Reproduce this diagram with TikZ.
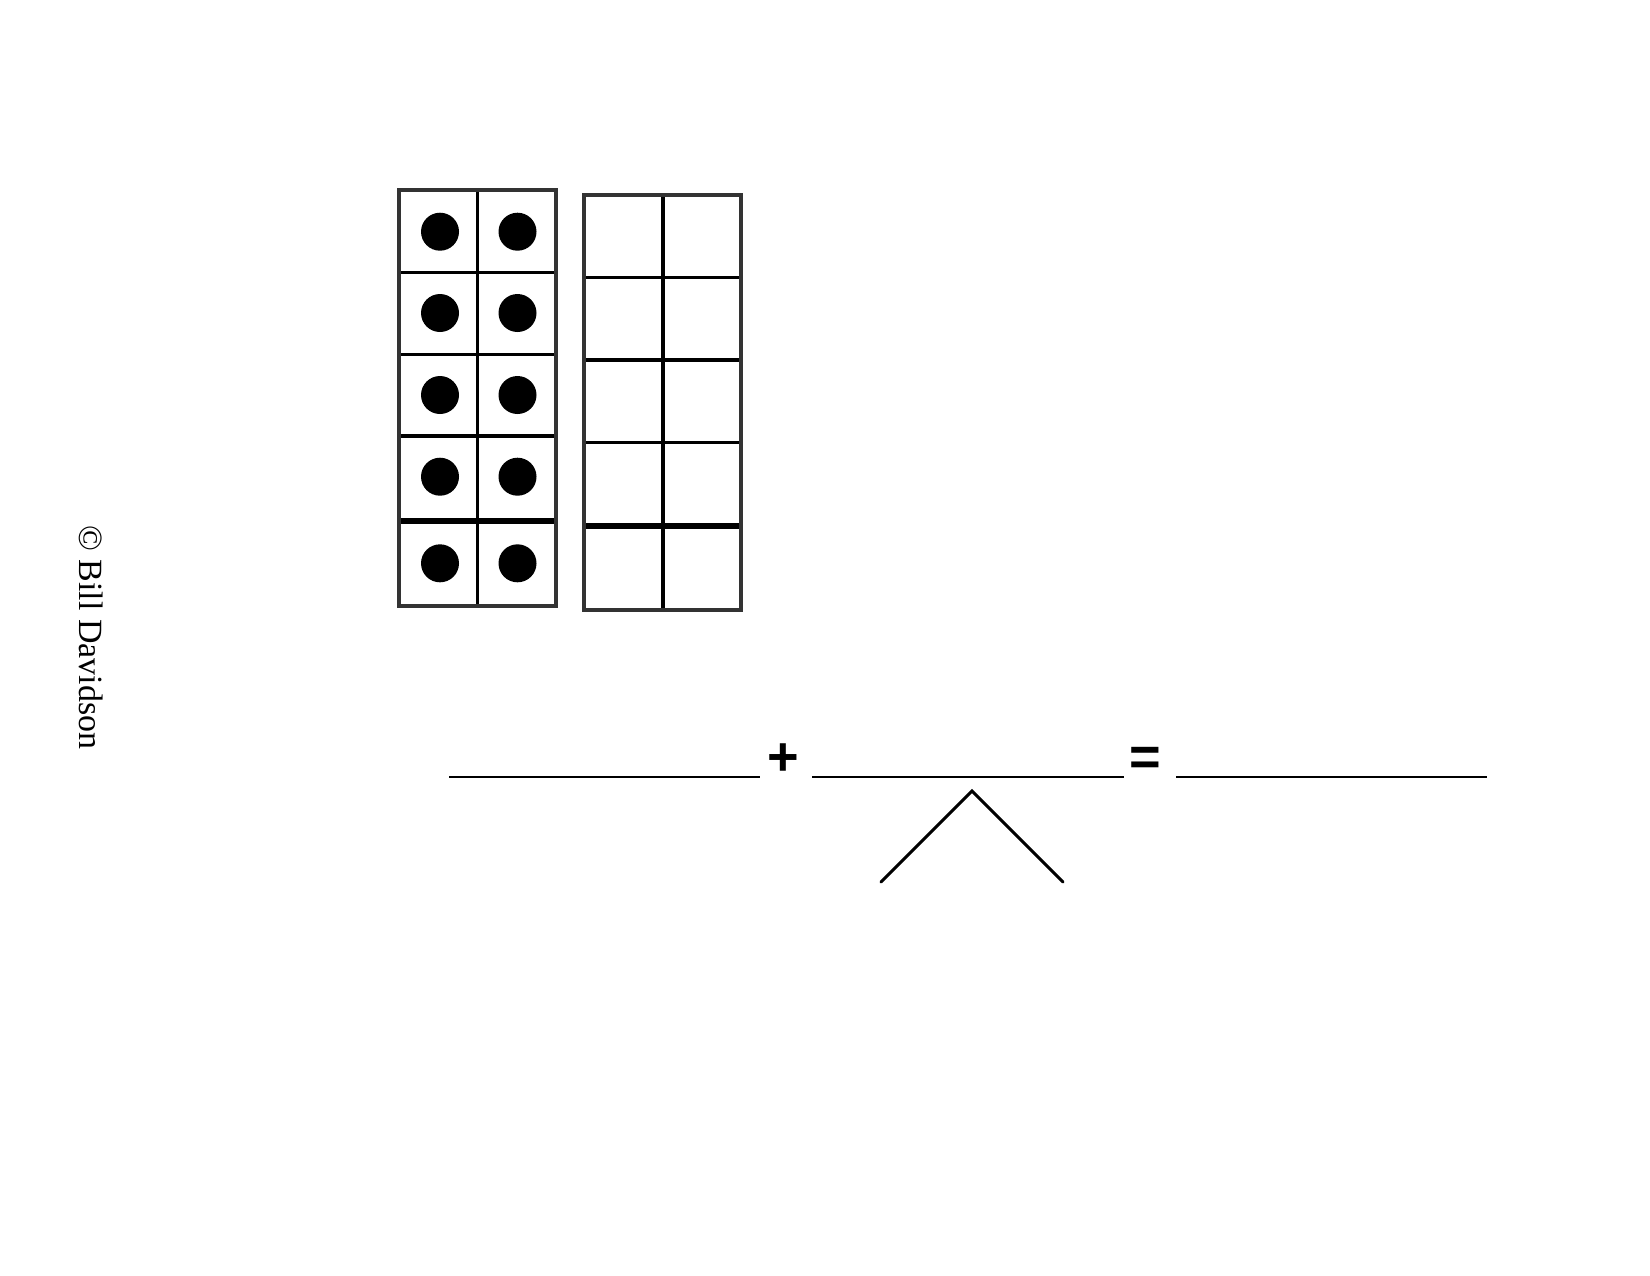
\documentclass[tikz,border=0pt]{standalone}
\usepackage{fontspec}
\setmainfont{Liberation Serif}
\newfontfamily\symfont{Liberation Sans}
\begin{document}
\begin{tikzpicture}[x=0.48pt,y=-0.48pt,
  outerline/.style={draw=black!80,line width=1.7pt},
  innerline/.style={draw=black,line width=1.7pt},
  thickline/.style={draw=black,line width=2.8pt},
  dot/.style={fill=black},
  blankline/.style={draw=black,line width=1pt},
  opsign/.style={inner sep=0pt,font=\symfont\bfseries\fontsize{26}{26}\selectfont},
  splitline/.style={draw=black,line width=1.5pt,line cap=round,line join=miter},
  credit/.style={inner sep=0pt,rotate=-90,anchor=base west,font=\fontsize{16.3}{16.3}\selectfont}]
\useasboundingbox (0,0) rectangle (1650,1275);
% left ten-frame
\draw[innerline] (477.5,190) -- (477.5,606);
\foreach \y in {272.7,354.3,436} \draw[innerline] (399,\y) -- (556,\y);
\draw[thickline] (399,521) -- (556,521);
\draw[outerline] (399,190) rectangle (556,606);
\foreach \y in {231.7,313,395,476.7,563.3} {
  \fill[dot] (440,\y) circle (19);
  \fill[dot] (517.5,\y) circle (19);
}
% right ten-frame
\draw[innerline] (663,195) -- (663,610);
\foreach \y in {277.5,360,442.7} \draw[innerline] (584,\y) -- (741,\y);
\draw[thickline] (584,526) -- (741,526);
\draw[outerline] (584,195) rectangle (741,610);
% equation
\coordinate (b1s) at (449,777); \coordinate (b1e) at (760,777);
\coordinate (b2s) at (812,777); \coordinate (b2e) at (1124,777);
\coordinate (b3s) at (1176,777); \coordinate (b3e) at (1487,777);
\draw[blankline] (b1s) -- (b1e);
\draw[blankline] (b2s) -- (b2e);
\draw[blankline] (b3s) -- (b3e);
\node[opsign] (plus) at (783,760) {+};
\node[opsign] (equals) at (1145,761) {=};
% number bond split
\coordinate (apex) at (972,791);
\coordinate (legl) at (881,882);
\coordinate (legr) at (1063,882);
\draw[splitline] (legl) -- (apex) -- (legr);
% credit
\node[credit] (copy) at (79,525) {© Bill Davidson};
\end{tikzpicture}
\end{document}
